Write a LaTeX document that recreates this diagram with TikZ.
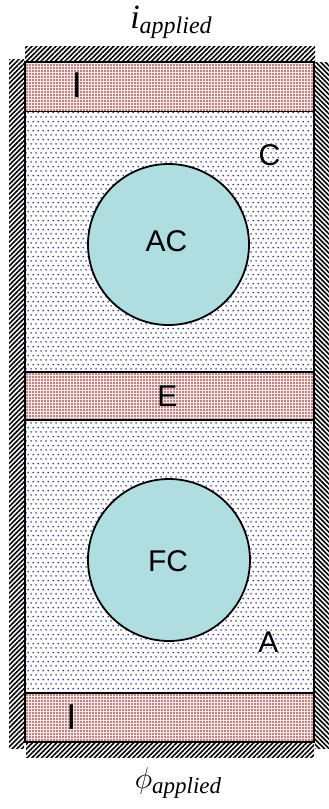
\documentclass[tikz,border=0pt]{standalone}
\usepackage{fix-cm}
\usepackage{fontspec}
\setmainfont{Liberation Serif}
\setsansfont{Liberation Sans}
\usetikzlibrary{patterns,patterns.meta}

\definecolor{dotblue}{HTML}{1E1E88}
\definecolor{dotred}{HTML}{862020}
\definecolor{bandbg}{HTML}{F3E6E6}
\definecolor{cellfill}{HTML}{B0DDE0}

% staggered dots of the porous electrode
\pgfdeclarepatternformonly{hexdots}{\pgfpointorigin}{\pgfpoint{5pt}{8.7pt}}{\pgfpoint{5pt}{8.7pt}}{
  \pgfpathcircle{\pgfpoint{1.25pt}{2.175pt}}{0.95pt}
  \pgfpathcircle{\pgfpoint{3.75pt}{6.525pt}}{0.95pt}
  \pgfusepath{fill}}

\tikzset{
  hatchne/.style={pattern={Lines[angle=45,distance=3.4pt,line width=1.6pt]},pattern color=black},
  hatchnw/.style={pattern={Lines[angle=-45,distance=3.4pt,line width=1.6pt]},pattern color=black},
  porous/.style={pattern=hexdots,pattern color=dotblue},
  band/.style={fill=bandbg,postaction={pattern={Dots[radius=0.8pt,distance=3pt]},pattern color=dotred}},
  sep/.style={line width=1.4pt},
  particle/.style={circle,draw=black,line width=1.8pt,fill=cellfill,inner sep=0pt},
  lbl/.style={font=\sffamily\fontsize{30}{30}\selectfont,inner sep=0pt},
  lblI/.style={font=\sffamily\fontsize{36}{36}\selectfont,inner sep=0pt},
}

\begin{document}
\begin{tikzpicture}[x=1pt,y=-1pt]
\useasboundingbox (0,0) rectangle (329,809);

% current collectors (hatched)
\fill[hatchne] (25,46) rectangle (315,61);
\fill[hatchne] (26,743) rectangle (314,757);
\fill[hatchne] (9,59) rectangle (24,748);
\fill[hatchnw] (315,62) rectangle (329,748);

% porous electrode region
\fill[white] (25,62) rectangle (314,742);
\fill[porous] (25,62) rectangle (314,742);

% insulator and electrolyte bands
\fill[band] (25,62) rectangle (314,111.5);
\fill[band] (25,372) rectangle (314,420);
\fill[band] (25,693) rectangle (314,742);

\draw[sep] (25,111.5) -- (314,111.5);
\draw[sep] (25,372) -- (314,372);
\draw[sep] (25,420) -- (314,420);
\draw[sep] (25,693) -- (314,693);
\draw[line width=1.8pt] (25,62) rectangle (314,742);

% active particles
\node[particle,minimum size=161pt] (acp) at (168.5,244.5) {};
\node[particle,minimum size=162pt] (fcp) at (169,560) {};

% labels
\node[lblI] (itop) at (77,85) {I};
\node[lbl] (cl) at (269.5,155) {C};
\node[lbl] (acl) at (166.5,241) {AC};
\node[lbl] (el) at (167.5,396.5) {E};
\node[lbl] (fcl) at (168,561) {FC};
\node[lbl] (al) at (268.5,642.5) {A};
\node[lblI] (ibot) at (71.5,717) {I};

\node[inner sep=0pt,anchor=base] (iapp) at (171,28)
  {\itshape\fontsize{34}{34}\selectfont i\raisebox{-5pt}{\fontsize{24}{24}\selectfont applied}};
\node[inner sep=0pt,anchor=base] (phiapp) at (178,788)
  {\fontsize{30}{30}\selectfont$\phi$\raisebox{-5pt}{\itshape\fontsize{23}{23}\selectfont applied}};
\end{tikzpicture}
\end{document}
